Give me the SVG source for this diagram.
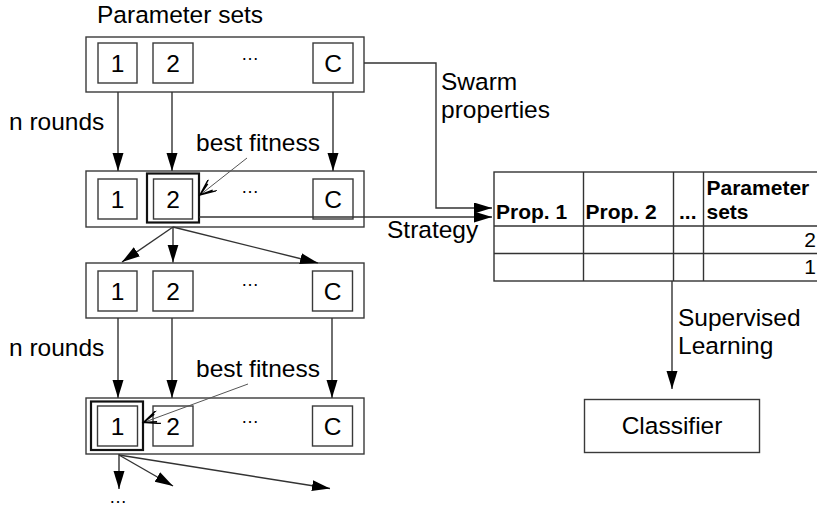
<svg xmlns="http://www.w3.org/2000/svg" width="817" height="508" viewBox="0 0 817 508">
  <defs>
    <style>
      .lbl { font-family: "Liberation Sans", Arial, sans-serif; font-size: 24.5px; fill: #000; }
      .num { font-family: "Liberation Sans", Arial, sans-serif; font-size: 24.5px; fill: #000; text-anchor: middle; }
      .dots { font-family: "Liberation Sans", Arial, sans-serif; font-size: 18px; fill: #000; text-anchor: middle; }
      .hdr { font-family: "Liberation Sans", Arial, sans-serif; font-size: 21px; font-weight: bold; fill: #000; }
      .cell { font-family: "Liberation Sans", Arial, sans-serif; font-size: 21px; fill: #000; text-anchor: end; }
      .box { fill: #fff; stroke: #3a3a3a; stroke-width: 1.4; }
      .best { fill: none; stroke: #111; stroke-width: 2.2; }
      .edge { fill: none; stroke: #333; stroke-width: 1.4; }
      .ptr { fill: none; stroke: #555; stroke-width: 1; }
      .grid { fill: none; stroke: #333; stroke-width: 1.4; }
    </style>
    <marker id="arrow" markerUnits="userSpaceOnUse" markerWidth="19" markerHeight="12" refX="18" refY="5.5" orient="auto">
      <path d="M0,0 L18,5.5 L0,11 z" fill="#000"/>
    </marker>
    <marker id="open" markerUnits="userSpaceOnUse" markerWidth="20" markerHeight="14" refX="18" refY="7" orient="auto">
      <path d="M2,0 L18,7 L2,14 M5,3 L18,7 L5,11" fill="none" stroke="#000" stroke-width="1.4"/>
    </marker>
  </defs>

  <rect width="817" height="508" fill="#fff"/>

  <!-- free labels -->
  <text class="lbl" x="97" y="23">Parameter sets</text>
  <text class="lbl" x="9" y="130">n rounds</text>
  <text class="lbl" x="9" y="356">n rounds</text>
  <text class="lbl" x="196" y="151">best fitness</text>
  <text class="lbl" x="196" y="377">best fitness</text>
  <text class="lbl" x="441" y="90">Swarm</text>
  <text class="lbl" x="441" y="118">properties</text>
  <text class="lbl" x="387" y="238">Strategy</text>
  <text class="lbl" x="678" y="326">Supervised</text>
  <text class="lbl" x="678" y="354">Learning</text>
  <text class="dots" x="118" y="503">…</text>

  <!-- generation 1 -->
  <g id="gen1">
    <rect class="box" x="86" y="37" width="278" height="55"/>
    <rect class="box" x="98" y="43" width="39" height="40"/>
    <rect class="box" x="153" y="43" width="40" height="40"/>
    <rect class="box" x="313" y="43" width="40" height="40"/>
    <text class="num" x="117.5" y="71.5">1</text>
    <text class="num" x="173" y="71.5">2</text>
    <text class="dots" x="250" y="60">…</text>
    <text class="num" x="333" y="71.5">C</text>
  </g>

  <!-- generation 2 -->
  <g id="gen2">
    <rect class="box" x="86" y="171" width="278" height="56"/>
    <rect class="box" x="98" y="179" width="39" height="40"/>
    <rect class="best" x="147" y="173.5" width="52" height="49"/>
    <rect class="box" x="153.5" y="179" width="39" height="40"/>
    <rect class="box" x="313" y="179" width="40" height="40"/>
    <text class="num" x="117.5" y="207.5">1</text>
    <text class="num" x="173" y="207.5">2</text>
    <text class="dots" x="250" y="193">…</text>
    <text class="num" x="333" y="207.5">C</text>
  </g>

  <!-- generation 3 -->
  <g id="gen3">
    <rect class="box" x="86" y="263" width="278" height="55"/>
    <rect class="box" x="98" y="271" width="39" height="40"/>
    <rect class="box" x="153" y="271" width="40" height="40"/>
    <rect class="box" x="312.5" y="271" width="40" height="40"/>
    <text class="num" x="117.5" y="299.5">1</text>
    <text class="num" x="173" y="299.5">2</text>
    <text class="dots" x="250" y="286">…</text>
    <text class="num" x="332.5" y="299.5">C</text>
  </g>

  <!-- generation 4 -->
  <g id="gen4">
    <rect class="box" x="86" y="398" width="278" height="56"/>
    <rect class="best" x="91" y="401.5" width="52" height="48.5"/>
    <rect class="box" x="97.5" y="406" width="40" height="40"/>
    <rect class="box" x="153" y="406" width="40" height="40"/>
    <rect class="box" x="312.5" y="406" width="40" height="40"/>
    <text class="num" x="117.5" y="434.5">1</text>
    <text class="num" x="173" y="434.5">2</text>
    <text class="dots" x="250" y="423">…</text>
    <text class="num" x="332.5" y="434.5">C</text>
  </g>

  <!-- training table -->
  <g id="table">
    <rect class="grid" x="494" y="172" width="340" height="109"/>
    <line class="grid" x1="494" y1="226" x2="834" y2="226"/>
    <line class="grid" x1="494" y1="253.5" x2="834" y2="253.5"/>
    <line class="grid" x1="583.5" y1="172" x2="583.5" y2="281"/>
    <line class="grid" x1="673.5" y1="172" x2="673.5" y2="281"/>
    <line class="grid" x1="703.5" y1="172" x2="703.5" y2="281"/>
    <text class="hdr" x="496" y="219">Prop. 1</text>
    <text class="hdr" x="585.5" y="219">Prop. 2</text>
    <text class="hdr" x="679" y="219">...</text>
    <text class="hdr" x="706.5" y="195">Parameter</text>
    <text class="hdr" x="706.5" y="219">sets</text>
    <text class="cell" x="816" y="246.5">2</text>
    <text class="cell" x="816" y="273.5">1</text>
  </g>

  <!-- classifier -->
  <g id="classifier">
    <rect class="box" x="584.5" y="399.5" width="175" height="53"/>
    <text class="num" x="672" y="433.5">Classifier</text>
  </g>

  <!-- connectors -->
  <g id="connectors">
    <line class="edge" x1="118" y1="92" x2="118" y2="171" marker-end="url(#arrow)"/>
    <line class="edge" x1="172" y1="92" x2="172" y2="171" marker-end="url(#arrow)"/>
    <line class="edge" x1="333" y1="92" x2="333" y2="171" marker-end="url(#arrow)"/>

    <line class="edge" x1="173" y1="227" x2="122" y2="262" marker-end="url(#arrow)"/>
    <line class="edge" x1="173" y1="227" x2="173" y2="262.5" marker-end="url(#arrow)"/>
    <line class="edge" x1="173" y1="227" x2="318" y2="263" marker-end="url(#arrow)"/>

    <line class="edge" x1="118" y1="318" x2="118" y2="398" marker-end="url(#arrow)"/>
    <line class="edge" x1="172" y1="318" x2="172" y2="398" marker-end="url(#arrow)"/>
    <line class="edge" x1="332" y1="318" x2="332" y2="398" marker-end="url(#arrow)"/>

    <line class="edge" x1="119" y1="454" x2="119" y2="489" marker-end="url(#arrow)"/>
    <line class="edge" x1="119" y1="455" x2="173" y2="486" marker-end="url(#arrow)"/>
    <line class="edge" x1="119" y1="455" x2="330" y2="488.5" marker-end="url(#arrow)"/>

    <polyline class="edge" points="364,63 436,63 436,208 492,208" marker-end="url(#arrow)"/>
    <line class="edge" x1="199" y1="217" x2="492" y2="217" marker-end="url(#arrow)"/>

    <line class="edge" x1="672" y1="281" x2="672" y2="389" marker-end="url(#arrow)"/>

    <line class="ptr" x1="247" y1="158" x2="200" y2="195" marker-end="url(#open)"/>
    <line class="ptr" x1="248" y1="384" x2="143.5" y2="422.5" marker-end="url(#open)"/>
  </g>
</svg>
